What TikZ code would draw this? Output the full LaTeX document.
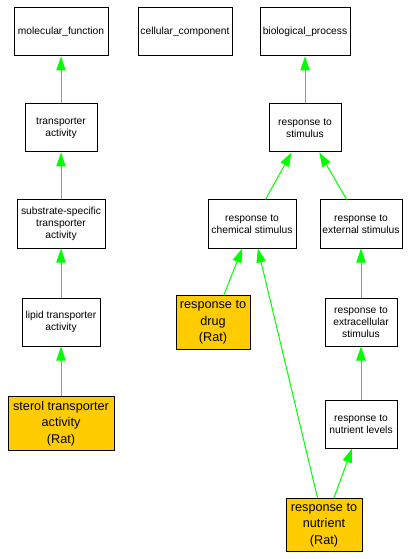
\documentclass[tikz,border=0pt]{standalone}
\usepackage{fontspec}
\setmainfont{Liberation Sans}
\usetikzlibrary{arrows.meta}
\definecolor{isagreen}{RGB}{0, 255, 0}
\definecolor{ratgold}{RGB}{255, 204, 0}

\begin{document}
\begin{tikzpicture}[
      x=0.75pt, y=-0.75pt,
      term/.style={rectangle, draw=black, fill=white, line width=0.75pt, minimum height=36pt, inner sep=1pt, align=center, font=\fontsize{7.7}{9}\selectfont},
      ratterm/.style={term, fill=ratgold, minimum height=40pt, font=\fontsize{9.5}{12.5}\selectfont},
      isa/.style={-{Triangle[length=10.5pt, width=7pt]}, isagreen, line width=0.75pt}
    ]
      \useasboundingbox (0,0) rectangle (410,559);

      % roots
      \node[term, minimum width=70.5pt] (MF) at (61, 32) {molecular\_function};
      \node[term, minimum width=70.5pt] (CC) at (185, 32) {cellular\_component};
      \node[term, minimum width=67.5pt] (BP) at (305, 32) {biological\_process};

      % molecular function branch
      \node[term, minimum width=54pt] (TA) at (61, 128) {transporter\\activity};
      \node[term, minimum width=66pt] (SSTA) at (61, 224) {substrate-specific\\transporter\\activity};
      \node[term, minimum width=58.5pt] (LTA) at (61, 322) {lipid transporter\\activity};
      \node[ratterm, minimum width=79.5pt] (STA) at (61, 423.5) {sterol transporter\\activity\\(Rat)};

      % biological process branch
      \node[term, minimum width=54pt] (RS) at (305, 128) {response to\\stimulus};
      \node[term, minimum width=66pt] (RCS) at (252, 224) {response to\\chemical stimulus};
      \node[term, minimum width=61.5pt] (RES) at (361, 224) {response to\\external stimulus};
      \node[ratterm, minimum width=55.5pt] (RD) at (213, 322.5) {response to\\drug\\(Rat)};
      \node[term, minimum width=54pt] (REXS) at (361, 322) {response to\\extracellular\\stimulus};
      \node[term, minimum width=54pt] (RNL) at (361, 424) {response to\\nutrient levels};
      \node[ratterm, minimum width=57pt] (RN) at (324, 525) {response to\\nutrient\\(Rat)};

      \draw[isa] (TA) -- (MF);
      \draw[isa] (SSTA) -- (TA);
      \draw[isa] (LTA) -- (SSTA);
      \draw[isa] (STA) -- (LTA);

      \draw[isa] (RS) -- (BP);
      \draw[isa] (RCS) -- (RS);
      \draw[isa] (RES) -- (RS);
      \draw[isa] (RD) -- (RCS);
      \draw[isa] (RN) -- (RCS);
      \draw[isa] (REXS) -- (RES);
      \draw[isa] (RNL) -- (REXS);
      \draw[isa] (RN) -- (RNL);
    \end{tikzpicture}
\end{document}
